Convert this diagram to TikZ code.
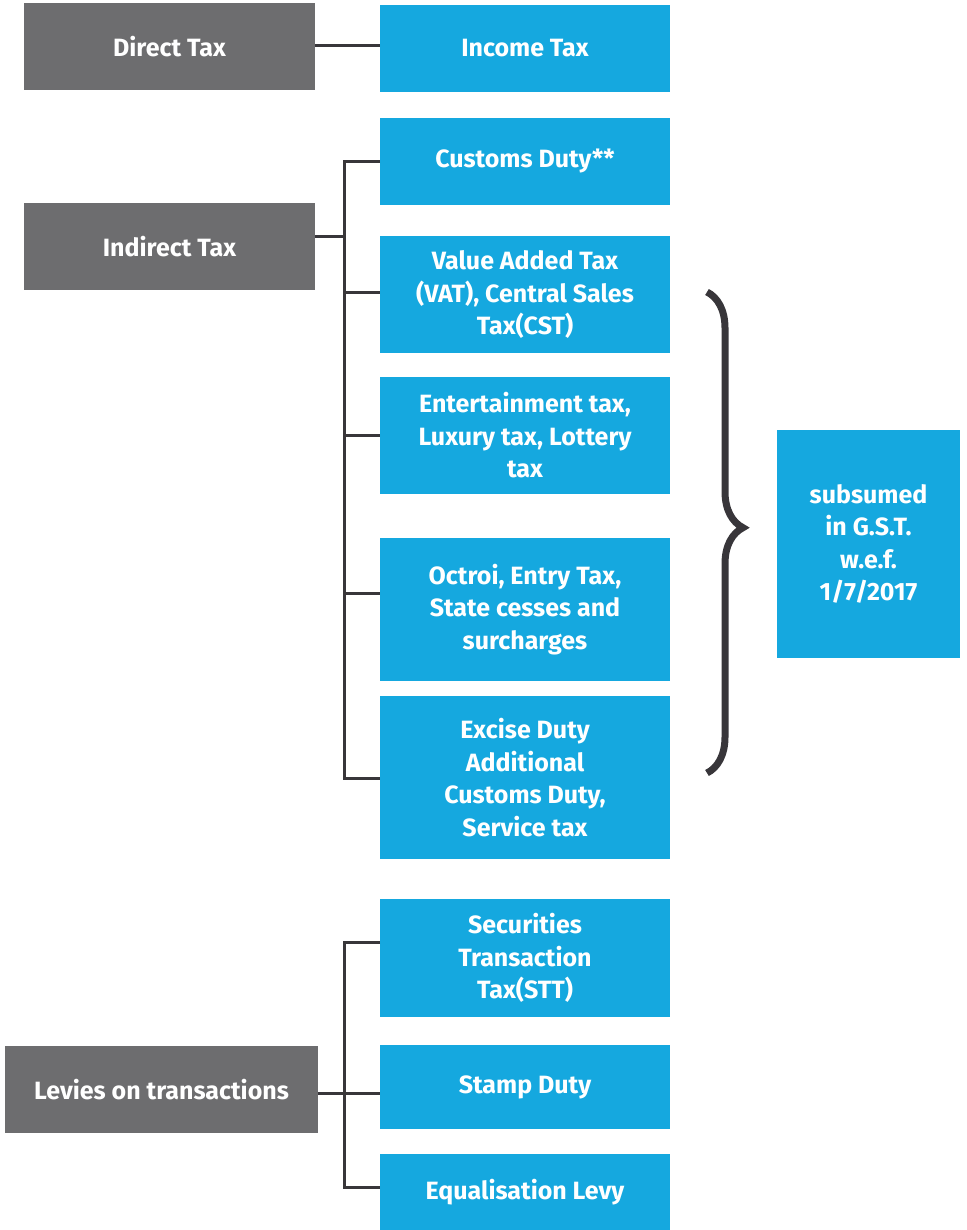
\documentclass[tikz,border=0pt]{standalone}
\usepackage{fontspec}
\setmainfont{Fira Sans}
\usetikzlibrary{decorations.pathreplacing}
\definecolor{boxgray}{HTML}{6D6D6F}
\definecolor{boxblue}{HTML}{15A8DF}
\definecolor{linegray}{HTML}{38363A}
\tikzset{
  base/.style={inner sep=0pt, outer sep=0pt, text=white, align=center,
    font=\fontsize{25}{32.5}\selectfont\bfseries},
  graybox/.style={base, fill=boxgray},
  bluebox/.style={base, fill=boxblue, minimum width=290pt},
  conn/.style={draw=linegray, line width=3pt},
}
\begin{document}
\begin{tikzpicture}[x=1pt,y=-1pt]
\useasboundingbox (0,0) rectangle (966,1230);
% gray category boxes
\node[graybox, minimum width=291pt, minimum height=87pt] (direct) at (169.5,46.5) {Direct Tax};
\node[graybox, minimum width=291pt, minimum height=87pt] (indirect) at (169.5,246.5) {Indirect Tax};
\node[graybox, minimum width=313pt, minimum height=87pt] (levies) at (161.5,1089.5) {Levies on transactions};
% blue boxes
\node[bluebox, minimum height=87pt] (income) at (525,48.5) {Income Tax};
\node[bluebox, minimum height=87pt] (customs) at (525,161.5) {Customs Duty**};
\node[bluebox, minimum height=117pt] (vat) at (525,294.5) {Value Added Tax\\(VAT), Central Sales\\Tax(CST)};
\node[bluebox, minimum height=117pt] (ent) at (525,435.5) {Entertainment tax,\\Luxury tax, Lottery\\tax};
\node[bluebox, minimum height=143pt] (octroi) at (525,609.5) {Octroi, Entry Tax,\\State cesses and\\surcharges};
\node[bluebox, minimum height=163pt] (excise) at (525,777.5) {Excise Duty\\Additional\\Customs Duty,\\Service tax};
\node[bluebox, minimum height=118pt] (stt) at (525,958) {Securities\\Transaction\\Tax(STT)};
\node[bluebox, minimum height=84pt] (stamp) at (525,1087) {Stamp Duty};
\node[bluebox, minimum height=76pt] (equal) at (525,1192) {Equalisation Levy};
\node[base, fill=boxblue, minimum width=183pt, minimum height=228pt] (gst) at (868.5,544) {subsumed\\in G.S.T.\\w.e.f.\\1/7/2017};
% connectors
\coordinate (t1) at (344,0);
\draw[conn] (direct.east |- 0,46) -- (income.west |- 0,46);
\draw[conn] (indirect.east |- 0,237) -- (t1 |- 0,237);
\draw[conn] (customs.west |- 0,162) -| (t1 |- 0,778) -- (excise.west |- 0,778);
\draw[conn] (t1 |- 0,293) -- (vat.west |- 0,293);
\draw[conn] (t1 |- 0,435) -- (ent.west |- 0,435);
\draw[conn] (t1 |- 0,593) -- (octroi.west |- 0,593);
\draw[conn] (stt.west |- 0,942) -| (t1 |- 0,1187) -- (equal.west |- 0,1187);
\draw[conn] (levies.east |- 0,1093) -- (stamp.west |- 0,1093);
% brace
\coordinate (bt) at (707,292);
\coordinate (bb) at (707,773);
\draw[linegray, line width=7pt, decorate,
  decoration={brace, amplitude=36pt, aspect=0.49}] (bt) -- (bb);
\end{tikzpicture}
\end{document}
